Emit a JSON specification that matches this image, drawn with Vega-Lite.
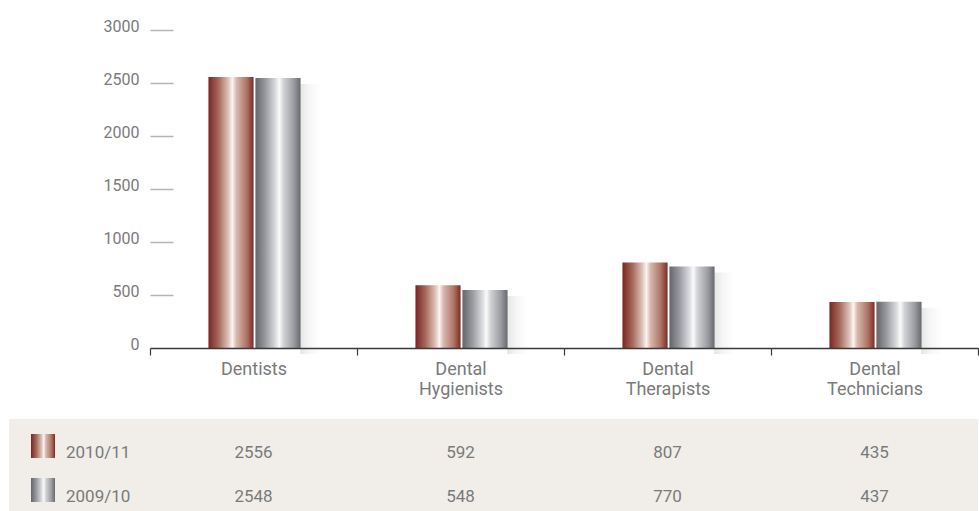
{
  "$schema": "https://vega.github.io/schema/vega-lite/v6.json",
  "padding": {"left": 9, "top": 18, "right": 0, "bottom": 0},
  "background": "white",
  "config": {"view": {"stroke": null}, "font": "Roboto"},
  "datasets": {
    "d": [
      {"category": "Dentists", "year": "2010/11", "value": 2556},
      {"category": "Dentists", "year": "2009/10", "value": 2548},
      {"category": "Dental Hygienists", "year": "2010/11", "value": 592},
      {"category": "Dental Hygienists", "year": "2009/10", "value": 548},
      {"category": "Dental Therapists", "year": "2010/11", "value": 807},
      {"category": "Dental Therapists", "year": "2009/10", "value": 770},
      {"category": "Dental Technicians", "year": "2010/11", "value": 435},
      {"category": "Dental Technicians", "year": "2009/10", "value": 437}
    ],
    "years": [{"year": "2010/11"}, {"year": "2009/10"}]
  },
  "columns": 2,
  "bounds": "flush",
  "spacing": {"row": 71, "column": 0},
  "concat": [
    {
      "width": 141,
      "height": 318,
      "data": {"values": []},
      "mark": {"type": "text"}
    },
    {
      "width": 828,
      "height": 318,
      "data": {"name": "d"},
      "encoding": {
        "x": {
          "field": "category",
          "type": "nominal",
          "scale": {"domain": ["Dentists", "Dental Hygienists", "Dental Therapists", "Dental Technicians"], "paddingInner": 0, "paddingOuter": 0},
          "axis": {
            "title": null,
            "labelAngle": 0,
            "tickBand": "extent",
            "domainColor": "#3a3a3a",
            "domainWidth": 1.5,
            "tickColor": "#3a3a3a",
            "tickSize": 7,
            "tickWidth": 1.2,
            "labelColor": "#7a7a7a",
            "labelFontSize": 18,
            "labelFont": "Roboto",
            "labelPadding": 5,
            "labelBaseline": "top",
            "labelLineHeight": 20,
            "labelExpr": "split(datum.label, ' ')",
            "zindex": 1
          }
        },
        "y": {
          "field": "value",
          "type": "quantitative",
          "scale": {"domain": [0, 3000]},
          "axis": {
            "title": null,
            "grid": false,
            "domain": false,
            "tickCount": 6,
            "format": "d",
            "tickSize": -23,
            "tickColor": "#b5b5b5",
            "tickWidth": 1.5,
            "tickOpacity": {"condition": {"test": "datum.value === 0", "value": 0}, "value": 1},
            "labelPadding": 34,
            "labelOffset": -4,
            "labelColor": "#7a7a7a",
            "labelFontSize": 16,
            "labelFont": "Roboto"
          }
        }
      },
      "layer": [
        {
          "transform": [{"filter": "datum.year === '2009/10'"}],
          "mark": {
            "type": "bar",
            "width": {"band": 0.1},
            "xOffset": 57,
            "yOffset": 6,
            "color": {
              "gradient": "linear", "x1": 0, "x2": 1, "y1": 0, "y2": 0,
              "stops": [
                {"offset": 0, "color": "rgba(0,0,0,0.10)"},
                {"offset": 0.4, "color": "rgba(0,0,0,0.04)"},
                {"offset": 1, "color": "rgba(0,0,0,0)"}
              ]
            }
          }
        },
        {
          "transform": [{"filter": "datum.year === '2010/11'"}],
          "mark": {
            "type": "bar",
            "width": {"band": 0.218},
            "xOffset": -22.5,
            "color": {
              "gradient": "linear", "x1": 0, "x2": 1, "y1": 0, "y2": 0,
              "stops": [
                {"offset": 0, "color": "#7a2522"},
                {"offset": 0.22, "color": "#a4685a"},
                {"offset": 0.44, "color": "#dcc2b9"},
                {"offset": 0.53, "color": "#fbf5f2"},
                {"offset": 0.62, "color": "#d8b8ad"},
                {"offset": 0.85, "color": "#ad7465"},
                {"offset": 1, "color": "#7e2b26"}
              ]
            }
          }
        },
        {
          "transform": [{"filter": "datum.year === '2009/10'"}],
          "mark": {
            "type": "bar",
            "width": {"band": 0.218},
            "xOffset": 24.5,
            "color": {
              "gradient": "linear", "x1": 0, "x2": 1, "y1": 0, "y2": 0,
              "stops": [
                {"offset": 0, "color": "#646569"},
                {"offset": 0.22, "color": "#999a9f"},
                {"offset": 0.44, "color": "#d9dadd"},
                {"offset": 0.53, "color": "#fbfbfb"},
                {"offset": 0.62, "color": "#d2d3d6"},
                {"offset": 0.85, "color": "#9b9ca1"},
                {"offset": 1, "color": "#68696e"}
              ]
            }
          }
        }
      ]
    },
    {
      "width": 141,
      "height": 92,
      "view": {"fill": "#f1eee9", "stroke": null},
      "data": {"name": "years"},
      "encoding": {
        "y": {
          "field": "year",
          "type": "nominal",
          "scale": {"type": "point", "domain": ["2010/11", "2009/10"], "padding": 0.545, "align": 0.708},
          "axis": null
        }
      },
      "layer": [
        {
          "transform": [{"filter": "datum.year === '2010/11'"}],
          "mark": {
            "type": "square", "size": 576, "filled": true, "opacity": 1, "xOffset": -36.5, "yOffset": -7,
            "color": {
              "gradient": "linear", "x1": 0, "x2": 1, "y1": 0, "y2": 0,
              "stops": [
                {"offset": 0, "color": "#7a2522"},
                {"offset": 0.22, "color": "#a4685a"},
                {"offset": 0.44, "color": "#dcc2b9"},
                {"offset": 0.53, "color": "#fbf5f2"},
                {"offset": 0.62, "color": "#d8b8ad"},
                {"offset": 0.85, "color": "#ad7465"},
                {"offset": 1, "color": "#7e2b26"}
              ]
            }
          }
        },
        {
          "transform": [{"filter": "datum.year === '2009/10'"}],
          "mark": {
            "type": "square", "size": 576, "filled": true, "opacity": 1, "xOffset": -36.5, "yOffset": -7,
            "color": {
              "gradient": "linear", "x1": 0, "x2": 1, "y1": 0, "y2": 0,
              "stops": [
                {"offset": 0, "color": "#646569"},
                {"offset": 0.22, "color": "#999a9f"},
                {"offset": 0.44, "color": "#d9dadd"},
                {"offset": 0.53, "color": "#fbfbfb"},
                {"offset": 0.62, "color": "#d2d3d6"},
                {"offset": 0.85, "color": "#9b9ca1"},
                {"offset": 1, "color": "#68696e"}
              ]
            }
          }
        },
        {
          "mark": {"type": "text", "align": "left", "baseline": "middle", "xOffset": -13.5, "fontSize": 17, "color": "#7a7a7a", "font": "Roboto"},
          "encoding": {"text": {"field": "year"}}
        }
      ]
    },
    {
      "width": 828,
      "height": 92,
      "view": {"fill": "#f1eee9", "stroke": null},
      "data": {"name": "d"},
      "mark": {"type": "text", "baseline": "middle", "fontSize": 17, "color": "#7a7a7a", "font": "Roboto"},
      "encoding": {
        "x": {
          "field": "category",
          "type": "nominal",
          "scale": {"domain": ["Dentists", "Dental Hygienists", "Dental Therapists", "Dental Technicians"], "paddingInner": 0, "paddingOuter": 0},
          "axis": null
        },
        "y": {
          "field": "year",
          "type": "nominal",
          "scale": {"type": "point", "domain": ["2010/11", "2009/10"], "padding": 0.545, "align": 0.708},
          "axis": null
        },
        "text": {"field": "value", "type": "quantitative"}
      }
    }
  ]
}
